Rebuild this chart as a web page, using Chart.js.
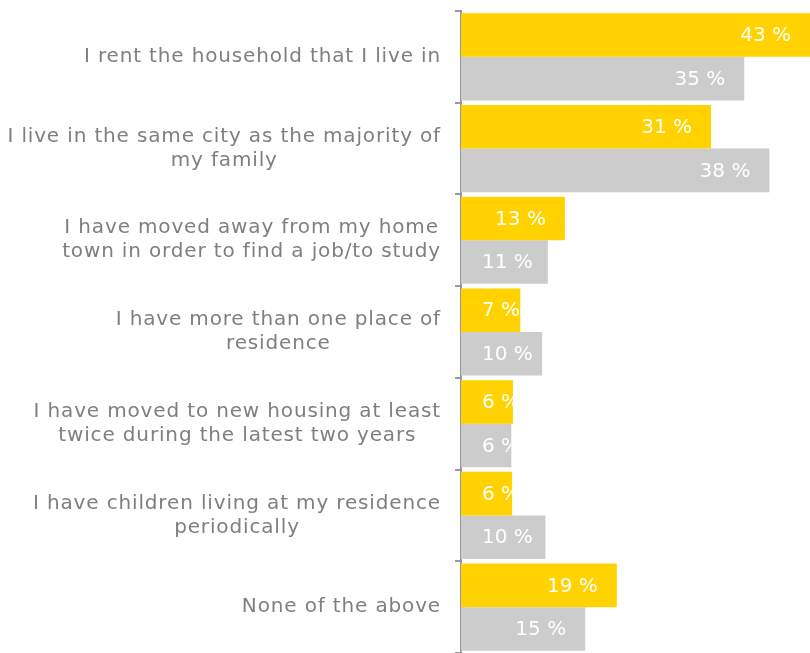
<!DOCTYPE html>
<html>
<head>
<meta charset="utf-8">
<script src="https://cdn.jsdelivr.net/npm/chart.js@4/dist/chart.umd.min.js"></script>
<style>
  html, body { margin: 0; padding: 0; background: #ffffff; }
  #wrap { width: 810px; height: 653px; position: relative; }
</style>
</head>
<body>
<div id="wrap"><canvas id="c"></canvas></div>
<script>
const categories = [
  ["I rent the household that I live in"],
  ["I live in the same city as the majority of", "my family"],
  ["I have moved away from my home", "town in order to find a job/to study"],
  ["I have more than one place of", "residence"],
  ["I have moved to new housing at least", "twice during the latest two years"],
  ["I have children living at my residence", "periodically"],
  ["None of the above"]
];
const seriesYellow = [43.0, 30.8, 12.8, 7.3, 6.4, 6.3, 19.2];
const seriesGray   = [34.9, 38.0, 10.7, 10.0, 6.2, 10.4, 15.3];
const labelsYellow = ["43 %", "31 %", "13 %", "7 %", "6 %", "6 %", "19 %"];
const labelsGray   = ["35 %", "38 %", "11 %", "10 %", "6 %", "10 %", "15 %"];

const FONT = '20px "DejaVu Sans", Verdana, sans-serif';

const labelPlugin = {
  id: 'customLabels',
  afterDatasetsDraw(chart) {
    const ctx = chart.ctx;
    const yScale = chart.scales.y;
    const area = chart.chartArea;
    ctx.save();
    ctx.font = FONT;
    const hasLS = ('letterSpacing' in ctx);
    if (hasLS) ctx.letterSpacing = '0.85px';
    ctx.fillStyle = '#7f7f7f';
    ctx.textBaseline = 'middle';
    ctx.textAlign = 'center';
    const rightEdge = area.left - 20;
    categories.forEach((lines, i) => {
      const cy = yScale.getPixelForValue(i);
      const maxW = Math.max(...lines.map(l => ctx.measureText(l).width));
      const cx = rightEdge - maxW / 2;
      const lh = 24;
      const startY = cy - (lines.length - 1) * lh / 2;
      lines.forEach((l, k) => ctx.fillText(l, cx, startY + k * lh));
    });
    if (hasLS) ctx.letterSpacing = '0px';
    // data labels
    const allLabels = [labelsYellow, labelsGray];
    chart.data.datasets.forEach((ds, di) => {
      const meta = chart.getDatasetMeta(di);
      meta.data.forEach((bar, i) => {
        const txt = allLabels[di][i];
        const w = ctx.measureText(txt).width;
        const left = Math.min(bar.base, bar.x);
        const right = Math.max(bar.base, bar.x);
        const top = bar.y - bar.height / 2;
        let x = Math.max(right - 19 - w, left + 21);
        ctx.save();
        ctx.beginPath();
        ctx.rect(left, top, right - left, bar.height);
        ctx.clip();
        ctx.fillStyle = '#ffffff';
        ctx.textAlign = 'left';
        ctx.fillText(txt, x, bar.y + 1);
        ctx.restore();
      });
    });
    ctx.restore();
  }
};

new Chart(document.getElementById('c'), {
  type: 'bar',
  data: {
    labels: categories.map(c => c.join(' ')),
    datasets: [
      { data: seriesYellow, backgroundColor: '#FFD200', borderWidth: 0 },
      { data: seriesGray, backgroundColor: '#CCCCCC', borderWidth: 0 }
    ]
  },
  options: {
    indexAxis: 'y',
    responsive: true,
    maintainAspectRatio: false,
    animation: false,
    layout: { padding: { top: 11, right: 0, bottom: 0, left: 0 } },
    datasets: { bar: { categoryPercentage: 0.95, barPercentage: 1.0 } },
    plugins: { legend: { display: false }, tooltip: { enabled: false } },
    scales: {
      x: { display: false, min: 0, max: 43 },
      y: {
        offset: true,
        ticks: { display: false },
        grid: { offset: true, drawOnChartArea: false, drawTicks: true, tickLength: 6, color: '#999999', lineWidth: 2 },
        border: { display: true, color: '#999999', width: 2 },
        afterFit(scale) { scale.width = 461; }
      }
    }
  },
  plugins: [labelPlugin]
});
</script>
</body>
</html>
